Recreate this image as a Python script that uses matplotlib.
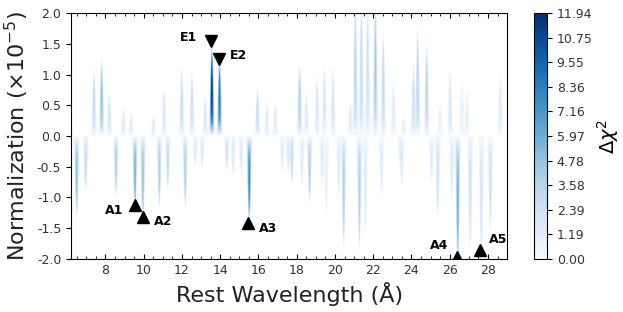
import numpy as np
import matplotlib
matplotlib.use('Agg')
import matplotlib.pyplot as plt
from matplotlib.ticker import MultipleLocator, FormatStrFormatter

# line features: rest wavelength (A), normalization where the
# streak fades out (x1e-5, sign = emission/absorption) and peak delta chi^2
line_wave = [6.49, 6.96, 7.39, 7.79, 8.19, 8.54, 8.92, 9.32, 9.53, 9.94,
             10.49, 10.80, 11.05, 11.24, 11.97, 12.15, 12.50, 12.67, 13.03, 13.19,
             13.54, 13.94, 14.32, 14.65, 15.07, 15.49, 15.92, 16.41, 16.85, 17.21,
             17.53, 17.72, 18.12, 18.24, 18.47, 18.64, 19.03, 19.29, 19.41, 19.51,
             19.86, 20.16, 20.42, 20.77, 21.03, 21.24, 21.34, 21.55, 21.67, 22.07,
             22.39, 22.48, 23.01, 23.38, 23.45, 23.54, 24.06, 24.28, 24.75, 25.01,
             25.33, 25.45, 25.97, 26.06, 26.37, 26.58, 26.85, 27.02, 27.60, 28.07,
             28.59]
line_norm = [-1.20, -0.82, 0.99, 1.13, 0.62, -0.90, 0.42, 0.35, -1.15, -1.31,
             0.30, -1.07, 0.69, -0.80, 0.99, -1.07, 0.94, -0.45, -0.50, 0.60,
             1.34, 1.15, -0.50, -0.60, -0.60, -1.31, 0.69, 0.50, 0.50, -0.50,
             -0.55, -0.72, 1.05, -0.75, 0.65, -0.99, 0.88, -0.75, 1.05, -1.20,
             0.99, -0.90, -1.64, 0.50, 2.00, -1.69, 2.00, -1.45, 2.00, 2.00,
             -0.90, 1.53, 0.80, -0.50, -0.75, 0.30, 1.07, 1.59, 1.37, -0.70,
             -1.20, 0.50, 0.96, -1.00, -2.00, 0.80, 0.70, -1.69, -1.90, -1.42,
             0.94]
line_dchi = [5.0, 3.0, 3.0, 5.0, 2.0, 4.0, 1.5, 1.5, 6.0, 5.0,
             1.5, 4.0, 2.0, 3.0, 3.0, 4.0, 2.5, 1.5, 1.5, 2.0,
             11.94, 9.0, 2.5, 1.5, 1.5, 8.0, 3.0, 1.5, 1.5, 1.5,
             2.0, 3.0, 4.0, 1.5, 1.5, 4.0, 2.0, 1.5, 2.0, 1.0,
             2.0, 1.5, 4.0, 1.5, 3.5, 4.0, 3.0, 1.5, 2.5, 4.5,
             1.5, 3.0, 1.5, 1.5, 1.5, 1.0, 2.5, 3.5, 3.5, 1.5,
             2.5, 1.0, 2.0, 1.5, 6.0, 1.0, 1.0, 2.5, 2.0, 2.5,
             1.5]

marker_names = ['E1', 'E2', 'A1', 'A2', 'A3', 'A4', 'A5']
marker_wave = [13.54, 13.94, 9.53, 9.97, 15.45, 26.37, 27.59]
marker_norm = [1.55, 1.26, -1.12, -1.32, -1.42, -1.96, -1.86]

vmax = 11.94

# build the delta chi^2 map on a wavelength / normalization grid
wave = np.arange(6.2, 29.0, 0.02)
norm = np.arange(-2.0, 2.0, 0.01)
W, N = np.meshgrid(wave, norm)
dchi = np.zeros_like(W)
for lw, ln, ld in zip(line_wave, line_norm, line_dchi):
    g = np.exp(-0.5 * ((W - lw) / 0.06) ** 2)
    ext = 1.12 * ln * g ** 0.5
    n0 = ext / 2.0
    with np.errstate(divide='ignore', invalid='ignore'):
        prof = ld * g * (1 - np.abs((N - n0) / n0) ** 3)
    prof = np.nan_to_num(prof, nan=0.0, posinf=0.0, neginf=0.0)
    dchi = np.maximum(dchi, np.clip(prof, 0, None))
dchi[dchi < 0.05] = -1.0

cmap = plt.get_cmap('Blues').copy()
cmap.set_under('white')

fig = plt.figure(figsize=(6.23, 3.12), dpi=100)
ax = fig.add_axes([0.114, 0.170, 0.700, 0.788])
cax = fig.add_axes([0.857, 0.170, 0.021, 0.788])

im = ax.imshow(dchi, origin='lower', aspect='auto', cmap=cmap,
               vmin=0, vmax=vmax, extent=[6.2, 29.0, -2.0, 2.0],
               interpolation='bilinear')

for name, mw, mn in zip(marker_names, marker_wave, marker_norm):
    mk = 'v' if name.startswith('E') else '^'
    ax.plot(mw, mn, marker=mk, color='black', markersize=8, linestyle='none')

txt = dict(fontsize=9, fontweight='bold', color='black')
ax.annotate('E1', (13.54, 1.55), xytext=(-10, 2), textcoords='offset points', ha='right', va='center', **txt)
ax.annotate('E2', (13.94, 1.26), xytext=(8, 2), textcoords='offset points', ha='left', va='center', **txt)
ax.annotate('A1', (9.53, -1.12), xytext=(-8, -4), textcoords='offset points', ha='right', va='center', **txt)
ax.annotate('A2', (9.97, -1.32), xytext=(8, -3), textcoords='offset points', ha='left', va='center', **txt)
ax.annotate('A3', (15.45, -1.42), xytext=(8, -4), textcoords='offset points', ha='left', va='center', **txt)
ax.annotate('A4', (26.37, -1.96), xytext=(-6, 8), textcoords='offset points', ha='right', va='center', **txt)
ax.annotate('A5', (27.59, -1.86), xytext=(6, 8), textcoords='offset points', ha='left', va='center', **txt)

ax.set_xlim(6.2, 29.0)
ax.set_ylim(-2.0, 2.0)
ax.xaxis.set_major_locator(MultipleLocator(2))
ax.xaxis.set_minor_locator(MultipleLocator(0.5))
ax.yaxis.set_major_locator(MultipleLocator(0.5))
ax.yaxis.set_major_formatter(FormatStrFormatter('%.1f'))
ax.tick_params(axis='x', which='both', direction='in', top=True, labelsize=9, labelcolor='#333333')
ax.tick_params(axis='y', labelsize=9, labelcolor='#333333')
ax.set_xlabel('Rest Wavelength (Å)', fontsize=16, color='#222222')
ax.set_ylabel('Normalization (×10$^{-5}$)', fontsize=16, color='#222222')

cb = fig.colorbar(im, cax=cax, ticks=np.linspace(0, vmax, 11))
cb.ax.yaxis.set_major_formatter(FormatStrFormatter('%.2f'))
cb.ax.tick_params(labelsize=9, labelcolor='#333333')
cb.set_label('$\\Delta\\chi^2$', fontsize=14, labelpad=2)

fig.savefig('out.png', dpi=100)
